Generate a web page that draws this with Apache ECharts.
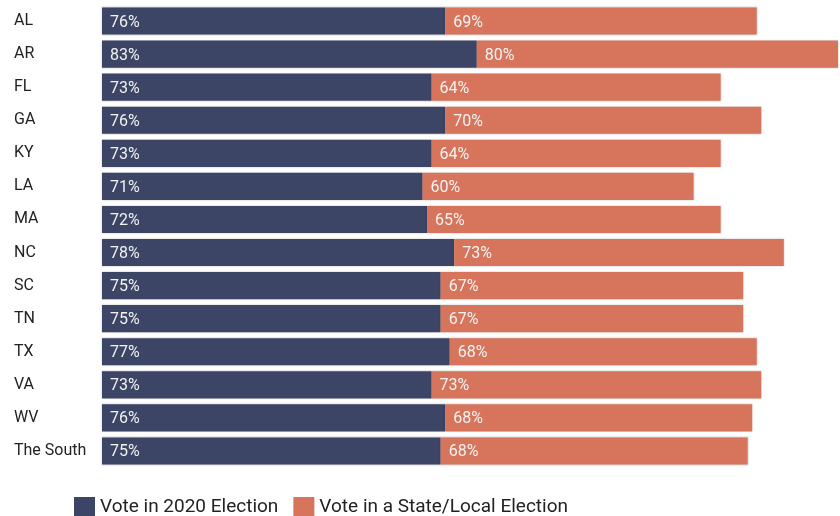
<!DOCTYPE html>
<html>
<head>
<meta charset="utf-8">
<script src="https://cdn.jsdelivr.net/npm/echarts@6/dist/echarts.min.js"></script>
<style>
  html, body { margin: 0; padding: 0; background: #fff; }
  #chart { width: 840px; height: 516px; }
</style>
</head>
<body>
<div id="chart"></div>
<script>
// Share of respondents who say they vote, by state
const states = ['AL', 'AR', 'FL', 'GA', 'KY', 'LA', 'MA', 'NC', 'SC', 'TN', 'TX', 'VA', 'WV', 'The South'];
const vote2020 = [76, 83, 73, 76, 73, 71, 72, 78, 75, 75, 77, 73, 76, 75];
const voteLocal = [69, 80, 64, 70, 64, 60, 65, 73, 67, 67, 68, 73, 68, 68];
const seriesNames = ['Vote in 2020 Election', 'Vote in a State/Local Election'];

const FONT = 'Roboto, "Noto Sans", sans-serif';
const chart = echarts.init(document.getElementById('chart'), null, { renderer: 'canvas' });

const barLabel = {
  show: true,
  position: 'insideLeft',
  distance: 8,
  offset: [0, 1.5],
  color: '#f2f2f2',
  fontFamily: FONT,
  fontSize: 16,
  formatter: p => p.value + '%'
};
const edge = { shadowColor: 'rgba(0,0,0,0.25)', shadowBlur: 2 };

chart.setOption({
  animation: false,
  textStyle: { fontFamily: FONT },
  grid: { left: 102, right: 2, top: 4.5, bottom: 48.5, containLabel: false },
  legend: {
    left: 74,
    top: 497,
    padding: 0,
    itemWidth: 21,
    itemHeight: 21,
    itemGap: 15,
    icon: 'rect',
    textStyle: { fontFamily: FONT, fontSize: 19, color: '#222', padding: [0, 0, 4, 0] },
    data: seriesNames
  },
  xAxis: {
    type: 'value',
    min: 0,
    max: 163,
    show: false
  },
  yAxis: {
    type: 'category',
    data: states,
    inverse: true,
    axisLine: { show: false },
    axisTick: { show: false },
    axisLabel: {
      align: 'left',
      margin: 88,
      color: '#222',
      fontFamily: FONT,
      fontSize: 16,
      padding: [3, 0, 0, 0]
    }
  },
  series: [
    {
      name: seriesNames[0],
      type: 'bar',
      stack: 'total',
      data: vote2020,
      barCategoryGap: '18%',
      itemStyle: Object.assign({ color: '#3c4566' }, edge),
      label: barLabel
    },
    {
      name: seriesNames[1],
      type: 'bar',
      stack: 'total',
      data: voteLocal,
      barCategoryGap: '18%',
      itemStyle: Object.assign({ color: '#d6755b' }, edge),
      label: barLabel
    }
  ]
});
</script>
</body>
</html>
